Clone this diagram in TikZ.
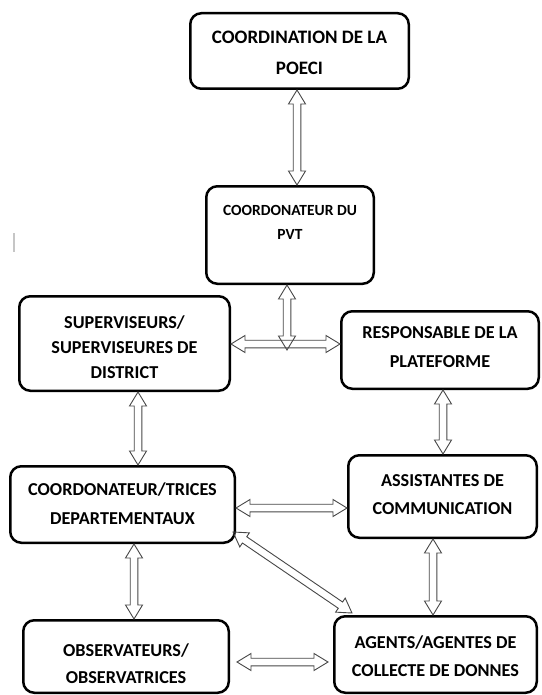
\documentclass[tikz,border=0pt]{standalone}
\usepackage{fontspec}
\setmainfont{Carlito}
\usetikzlibrary{calc}
\newcommand{\ah}{14pt}
\newcommand{\aw}{8.5pt}
\newcommand{\as}{3.8pt}
\tikzset{
  box/.style={draw=black, line width=2.5pt, rounded corners=11pt, fill=white},
  lbl/.style={align=center, font=\bfseries, inner sep=0pt},
  dblarrow/.style={draw=black!72, line width=0.9pt, line join=miter,
    to path={
      -- ($(\tikztostart)!\ah!(\tikztotarget)!\aw!90:(\tikztotarget)$)
      -- ($(\tikztostart)!\ah!(\tikztotarget)!\as!90:(\tikztotarget)$)
      -- ($(\tikztotarget)!\ah!(\tikztostart)!\as!-90:(\tikztostart)$)
      -- ($(\tikztotarget)!\ah!(\tikztostart)!\aw!-90:(\tikztostart)$)
      -- (\tikztotarget)
      -- ($(\tikztotarget)!\ah!(\tikztostart)!\aw!90:(\tikztostart)$)
      -- ($(\tikztotarget)!\ah!(\tikztostart)!\as!90:(\tikztostart)$)
      -- ($(\tikztostart)!\ah!(\tikztotarget)!\as!-90:(\tikztotarget)$)
      -- ($(\tikztostart)!\ah!(\tikztotarget)!\aw!-90:(\tikztotarget)$)
      -- cycle}}
}
\begin{document}
\begin{tikzpicture}[x=1pt,y=-1pt]
\useasboundingbox[fill=white] (0,0) rectangle (541,695);
% boxes
\node[box, minimum width=218.5pt, minimum height=75.5pt,
  label={[lbl, font=\bfseries\fontsize{19}{31}\selectfont, yshift=-1.5pt]center:{COORDINATION DE LA\\POECI}}] (poeci) at (299.5,51) {};
\node[box, minimum width=167.5pt, minimum height=97.5pt,
  label={[lbl, font=\bfseries\fontsize{15.5}{24}\selectfont, yshift=13pt]center:{COORDONATEUR DU\\PVT}}] (pvt) at (290,235) {};
\node[box, minimum width=210.5pt, minimum height=94.5pt,
  label={[lbl, font=\bfseries\fontsize{18.2}{25}\selectfont, yshift=-3.5pt]center:{SUPERVISEURS/\\SUPERVISEURES DE\\DISTRICT}}] (sup) at (124.5,343.5) {};
\node[box, minimum width=197.5pt, minimum height=77.5pt,
  label={[lbl, font=\bfseries\fontsize{18.2}{29}\selectfont, yshift=2.5pt]center:{RESPONSABLE DE LA\\PLATEFORME}}] (resp) at (440,350) {};
\node[box, minimum width=224.5pt, minimum height=76.5pt,
  label={[lbl, font=\bfseries\fontsize{18.2}{29}\selectfont, yshift=1pt]center:{COORDONATEUR/TRICES\\DEPARTEMENTAUX}}] (dep) at (122.5,504.5) {};
\node[box, minimum width=188.5pt, minimum height=82.5pt,
  label={[lbl, font=\bfseries\fontsize{18.2}{28}\selectfont, yshift=1.5pt]center:{ASSISTANTES DE\\COMMUNICATION}}] (asst) at (442.5,496.5) {};
\node[box, minimum width=205.5pt, minimum height=72.5pt,
  label={[lbl, font=\bfseries\fontsize{18.2}{27}\selectfont, yshift=-7pt]center:{OBSERVATEURS/\\OBSERVATRICES}}] (obs) at (126,656.5) {};
\node[box, minimum width=202.5pt, minimum height=76.5pt,
  label={[lbl, font=\bfseries\fontsize{18.2}{28}\selectfont, yshift=-1.5pt]center:{AGENTS/AGENTES DE\\COLLECTE DE DONNES}}] (agents) at (435.5,654.5) {};
% junction point
\coordinate (jct) at (287,344);
% connectors
\draw[dblarrow] (poeci.south -| 297,0) to (pvt.north -| 297,0);
\draw[dblarrow] (pvt.south -| jct) to ([yshift=-6pt]jct);
\draw[dblarrow] (sup.east |- jct) to (resp.west |- jct);
\draw[dblarrow] (sup.south -| 138,0) to (dep.north -| 138,0);
\draw[dblarrow] (resp.south -| 443,0) to (asst.north -| 443,0);
\draw[dblarrow] (dep.east |- 0,508) to (asst.west |- 0,508);
\draw[dblarrow] (dep.south -| 134,0) to (obs.north -| 134,0);
\draw[dblarrow] (asst.south -| 433,0) to (agents.north -| 433,0);
\draw[dblarrow] ([xshift=-3pt,yshift=12pt]dep.south east) to ([xshift=19pt,yshift=2pt]agents.north west);
\draw[dblarrow] ([xshift=7pt]obs.east |- 0,662) to ([xshift=-5pt]agents.west |- 0,662);
% stray mark
\draw[gray!45, line width=1.2pt] (14,233) -- (14,252);
\end{tikzpicture}
\end{document}
